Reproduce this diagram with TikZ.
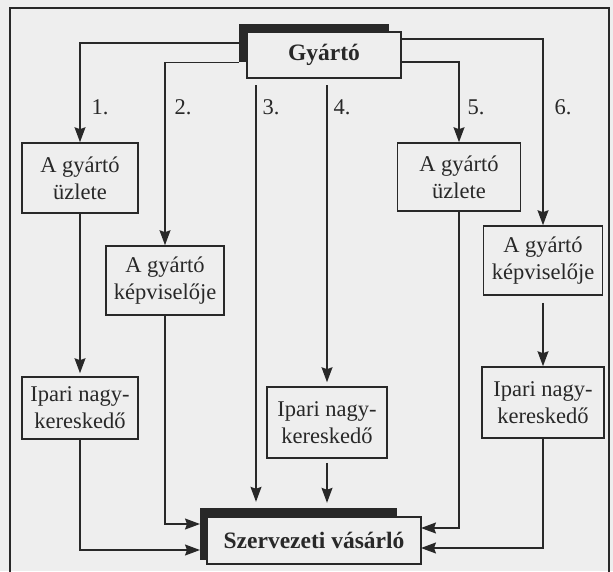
\documentclass[tikz,border=0pt]{standalone}
\usepackage{fontspec}
\setmainfont{Liberation Serif}
\usetikzlibrary{arrows.meta,calc}
\definecolor{bg}{RGB}{238,238,238}
\definecolor{ink}{RGB}{40,40,40}
\begin{document}
\begin{tikzpicture}[x=1pt,y=-1pt,
  box/.style={draw=ink, line width=1.6pt, fill=bg, align=center, inner sep=0pt, text=ink,
    font=\fontsize{22.5}{27}\selectfont},
  bbox/.style={box, font=\bfseries\fontsize{23.5}{28}\selectfont},
  shad/.style={fill=ink, inner sep=0pt},
  arr/.style={draw=ink, line width=1.3pt, -{Stealth[length=15pt,width=11pt,inset=2pt]}},
  ln/.style={draw=ink, line width=1.3pt},
  num/.style={text=ink, inner sep=0pt, font=\fontsize{22.5}{27}\selectfont}]
\fill[bg] (0,0) rectangle (613,571);
\useasboundingbox (0,0) rectangle (613,571);
% outer frame
\draw[ink, line width=1.6pt] (10,580) -- (10,8) -- (609,8) -- (609,580);
% manufacturer
\node[shad, minimum width=150pt, minimum height=38pt] (gys) at (314,43) {};
\node[bbox, minimum width=154pt, minimum height=46pt] (gy) at (324,55) {Gyártó};
% buyer
\node[shad, minimum width=197pt, minimum height=52pt] (szs) at (298.5,534) {};
\node[bbox, minimum width=214pt, minimum height=47pt] (sz) at (314,540.5) {Szervezeti vásárló};
% left column
\node[box, minimum width=116pt, minimum height=70pt] (u1) at (80,178) {A gyártó\\üzlete};
\node[box, minimum width=118pt, minimum height=69pt] (k1) at (165,280.5) {A gyártó\\képviselője};
\node[box, minimum width=116pt, minimum height=62pt] (ipl) at (80,408) {Ipari nagy-\\kereskedő};
% middle
\node[box, minimum width=120pt, minimum height=71pt] (ipm) at (327,422.5) {Ipari nagy-\\kereskedő};
% right column
\node[box, minimum width=123pt, minimum height=68pt] (u2) at (459,177) {A gyártó\\üzlete};
\node[box, minimum width=119pt, minimum height=69pt] (k2) at (543,260.5) {A gyártó\\képviselője};
\node[box, minimum width=122pt, minimum height=71pt] (ipr) at (543,402.5) {Ipari nagy-\\kereskedő};
% numbers
\node[num] (n1) at (100,107) {1.};
\node[num] (n2) at (183,107) {2.};
\node[num] (n3) at (271,107) {3.};
\node[num] (n4) at (342,107) {4.};
\node[num] (n5) at (476,107) {5.};
\node[num] (n6) at (563,107) {6.};
% coordinates
\coordinate (l3) at (256,85);
\coordinate (l4) at (327,85);
\coordinate (sw1) at (200,524);
\coordinate (sw2) at (200,550);
\coordinate (se1) at (421,528);
\coordinate (se2) at (421,548);
% channel 1
\draw[arr] (gys.west) -| (u1.north);
\draw[arr, shorten >=3pt] (u1.south) -- (ipl.north);
\draw[arr] (ipl.south) |- (sw2);
% channel 2
\draw[arr] (gys.south west) -| (k1.north);
\draw[arr] (k1.south) |- (sw1);
% channel 3
\draw[arr, shorten >=6pt] (l3) -- (l3 |- szs.north);
% channel 4
\draw[arr, shorten >=4pt] (l4) -- (ipm.north);
\draw[arr, shorten <=4pt, shorten >=5pt] (ipm.south) -- (ipm.south |- szs.north);
% channel 5
\draw[arr] ([yshift=-7pt]gy.east) -| (u2.north);
\draw[arr] (u2.south) |- (se1);
% channel 6
\draw[arr] ([yshift=16pt]gy.east) -| (k2.north);
\draw[arr, shorten <=7pt] (k2.south) -- (ipr.north);
\draw[arr] (ipr.south) |- (se2);
\end{tikzpicture}
\end{document}
